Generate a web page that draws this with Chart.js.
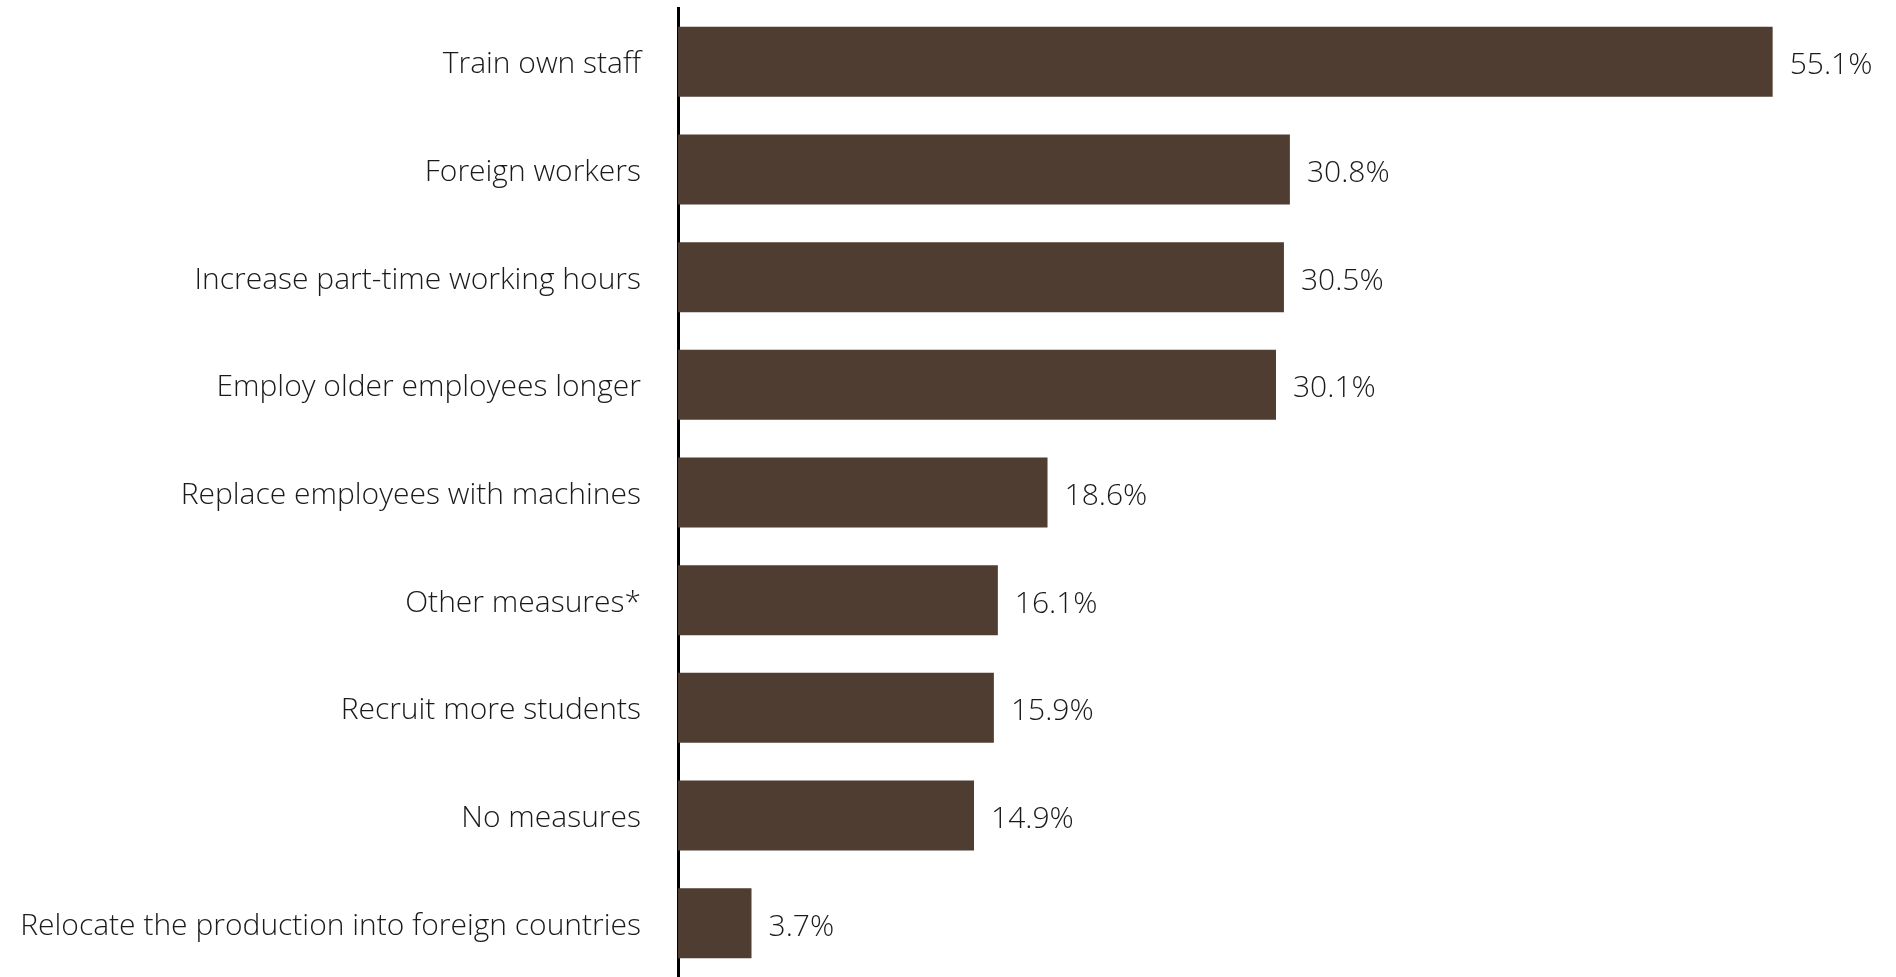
<!DOCTYPE html>
<html>
<head>
<meta charset="utf-8">
<script src="https://cdn.jsdelivr.net/npm/chart.js@4.4.1/dist/chart.umd.min.js"></script>
<style>
    html, body { margin: 0; padding: 0; background: #fff; }
    #wrap { width: 1896px; height: 977px; }
</style>
</head>
<body>
<div id="wrap"><canvas id="measuresChart" width="1896" height="977"></canvas></div>
<script>
const categories = [
    'Train own staff',
    'Foreign workers',
    'Increase part-time working hours',
    'Employ older employees longer',
    'Replace employees with machines',
    'Other measures*',
    'Recruit more students',
    'No measures',
    'Relocate the production into foreign countries'
];
const shares = [55.1, 30.8, 30.5, 30.1, 18.6, 16.1, 15.9, 14.9, 3.7];

const barColor = '#4f3d32';
const fontFamily = '"Open Sans", "Noto Sans", sans-serif';

// value labels at the end of each bar (kept inside the canvas for the longest bar)
const valueLabels = {
    id: 'valueLabels',
    afterDatasetsDraw(chart) {
        const ctx = chart.ctx;
        const meta = chart.getDatasetMeta(0);
        const rightLimit = chart.chartArea.right + 4;
        ctx.save();
        ctx.font = '300 30px ' + fontFamily;
        ctx.fillStyle = '#1a1a1a';
        ctx.textAlign = 'left';
        ctx.textBaseline = 'middle';
        meta.data.forEach(function(bar, i) {
            const text = shares[i].toFixed(1) + '%';
            const w = ctx.measureText(text).width;
            const x = Math.min(bar.x + 17, rightLimit - w);
            ctx.fillText(text, x, bar.y + 4);
        });
        ctx.restore();
    }
};

new Chart(document.getElementById('measuresChart'), {
    type: 'bar',
    data: {
        labels: categories,
        datasets: [{
            data: shares,
            backgroundColor: barColor,
            borderWidth: 0,
            barPercentage: 0.65,
            categoryPercentage: 1
        }]
    },
    options: {
        indexAxis: 'y',
        responsive: false,
        animation: false,
        layout: { padding: { top: 8, right: 26, bottom: 0, left: 0 } },
        plugins: {
            legend: { display: false },
            tooltip: { enabled: false }
        },
        scales: {
            x: {
                min: 0,
                max: 60,
                display: false
            },
            y: {
                afterFit(scale) {
                    scale.width = 678;
                    scale.paddingTop = 0;
                    scale.paddingBottom = 0;
                },
                grid: { display: false, drawTicks: false },
                border: { display: true, color: '#000', width: 3 },
                ticks: {
                    padding: 37,
                    labelOffset: 3,
                    color: '#1a1a1a',
                    font: { family: fontFamily, size: 30, weight: 300 }
                }
            }
        }
    },
    plugins: [valueLabels]
});
</script>
</body>
</html>
